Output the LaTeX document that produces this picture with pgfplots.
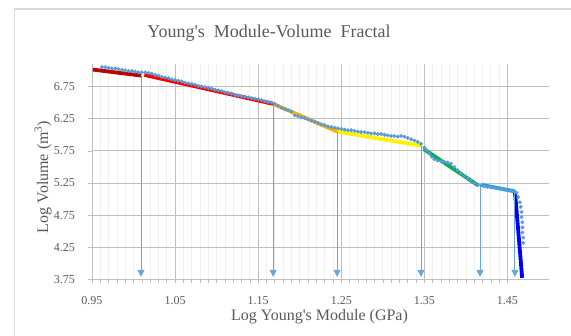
\documentclass[border=0pt]{standalone}
\usepackage{pgfplots}
\pgfplotsset{compat=1.18}
\usepackage{fontspec}
\setmainfont{Liberation Serif}
\usetikzlibrary{arrows.meta}
\definecolor{txt}{HTML}{595959}
\definecolor{grid}{HTML}{D9D9D9}
\definecolor{mgrid}{HTML}{F0F0F0}
\definecolor{axl}{HTML}{BFBFBF}
\definecolor{pts}{HTML}{5B9BD5}
\definecolor{arr}{HTML}{6AA6DC}
\definecolor{dred}{HTML}{C00000}
\definecolor{orng}{HTML}{FFB000}
\definecolor{grn}{HTML}{00B050}
\definecolor{lblue}{HTML}{0FA0F5}
\pgfplotstableread{
x y
0.962 7.05
0.966 7.05
0.970 7.04
0.974 7.03
0.978 7.03
0.982 7.02
0.986 7.01
0.990 7.00
0.994 6.99
0.998 6.99
1.002 6.98
1.006 6.97
1.010 6.97
1.014 6.97
1.018 6.96
1.022 6.95
1.026 6.93
1.030 6.92
1.034 6.90
1.038 6.89
1.042 6.88
1.046 6.86
1.050 6.85
1.054 6.84
1.058 6.83
1.062 6.81
1.066 6.80
1.070 6.79
1.074 6.78
1.078 6.76
1.082 6.75
1.086 6.74
1.090 6.73
1.094 6.72
1.098 6.70
1.102 6.69
1.106 6.68
1.110 6.66
1.114 6.65
1.118 6.64
1.122 6.62
1.126 6.61
1.130 6.60
1.134 6.59
1.138 6.58
1.142 6.57
1.146 6.56
1.150 6.55
1.154 6.54
1.158 6.52
1.162 6.51
1.166 6.50
1.170 6.48
1.174 6.45
1.178 6.42
1.182 6.40
1.186 6.38
1.190 6.36
1.194 6.30
1.198 6.29
1.202 6.27
1.206 6.26
1.210 6.24
1.214 6.22
1.218 6.20
1.222 6.18
1.226 6.16
1.230 6.15
1.234 6.13
1.238 6.12
1.242 6.11
1.246 6.10
1.250 6.09
1.254 6.08
1.258 6.07
1.262 6.07
1.266 6.06
1.270 6.05
1.274 6.04
1.278 6.04
1.282 6.03
1.286 6.02
1.290 6.02
1.294 6.01
1.298 6.01
1.302 6.00
1.306 5.99
1.310 5.98
1.314 5.98
1.318 5.97
1.322 5.98
1.326 5.97
1.330 5.95
1.334 5.93
1.338 5.91
1.342 5.89
1.346 5.86
1.350 5.80
1.353 5.76
1.356 5.71
1.359 5.66
1.362 5.62
1.366 5.60
1.370 5.59
1.374 5.58
1.378 5.57
1.382 5.55
1.386 5.50
1.390 5.45
1.394 5.40
1.398 5.36
1.402 5.32
1.406 5.29
1.410 5.25
1.414 5.22
1.418 5.21
1.422 5.20
1.426 5.19
1.430 5.19
1.434 5.18
1.438 5.17
1.442 5.16
1.446 5.15
1.450 5.14
1.454 5.13
1.458 5.12
1.461 5.10
1.463 5.03
1.465 4.95
1.466 4.88
1.467 4.80
1.467 4.72
1.468 4.64
1.468 4.56
1.468 4.48
1.469 4.40
1.469 4.32
}\scatterdata
\begin{document}
\begin{tikzpicture}
\path[use as bounding box] (-92pt,-56.5pt) rectangle (479pt,279.5pt);
\draw[grid, line width=1.5pt] (-77.5pt,-56.5pt) -- (-77.5pt,270.5pt) -- (479pt,270.5pt);
\begin{axis}[
  at={(0pt,0pt)}, anchor=south west,
  scale only axis, width=457pt, height=215.5pt,
  xmin=0.95, xmax=1.5, ymin=3.75, ymax=7.1,
  xtick={0.95,1.05,1.15,1.25,1.35,1.45},
  xticklabels={0.95,1.05,1.15,1.25,1.35,1.45},
  ytick={3.75,4.25,4.75,5.25,5.75,6.25,6.75},
  yticklabels={3.75,4.25,4.75,5.25,5.75,6.25,6.75},
  minor x tick num=9,
  grid=both,
  major grid style={grid, line width=0.8pt},
  minor grid style={mgrid, line width=0.8pt},
  axis x line*=bottom, axis y line*=left,
  axis line style={axl, line width=0.8pt},
  tick align=outside,
  major tick length=4pt, minor tick length=4pt,
  tick style={axl, line width=0.6pt},
  xticklabel style={font=\fontsize{12}{14}\selectfont, text=txt, inner sep=0pt, anchor=center, yshift=-17.5pt},
  yticklabel style={font=\fontsize{12}{14}\selectfont, text=txt, inner sep=0pt, anchor=east, xshift=-13pt},
  clip=false,
]
\addplot[only marks, mark=*, mark size=1.75pt, pts, mark options={draw=none, fill=pts}] table[x=x,y=y] {\scatterdata};
\addplot[dred, line width=3.8pt] coordinates {(0.951,7.013) (1.009,6.92)};
\addplot[red, line width=3.8pt] coordinates {(1.013,6.93) (1.168,6.48)};
\addplot[orng, line width=3.8pt] coordinates {(1.168,6.48) (1.245,6.05)};
\addplot[yellow, line width=3.8pt] coordinates {(1.245,6.05) (1.346,5.83)};
\addplot[grn, line width=3.8pt] coordinates {(1.349,5.78) (1.415,5.21)};
\addplot[lblue, line width=3.8pt] coordinates {(1.419,5.22) (1.459,5.12)};
\addplot[blue, line width=3.8pt] coordinates {(1.459,5.12) (1.4677,3.776)};
\addplot[arr, line width=0.9pt, -{Triangle[width=7pt,length=7pt]}] coordinates {(1.009,6.92) (1.009,3.79)};
\addplot[arr, line width=0.9pt, -{Triangle[width=7pt,length=7pt]}] coordinates {(1.168,6.48) (1.168,3.79)};
\addplot[arr, line width=0.9pt, -{Triangle[width=7pt,length=7pt]}] coordinates {(1.245,6.05) (1.245,3.79)};
\addplot[arr, line width=0.9pt, -{Triangle[width=7pt,length=7pt]}] coordinates {(1.346,5.83) (1.346,3.79)};
\addplot[arr, line width=0.9pt, -{Triangle[width=7pt,length=7pt]}] coordinates {(1.417,5.21) (1.417,3.79)};
\addplot[arr, line width=0.9pt, -{Triangle[width=7pt,length=7pt]}] coordinates {(1.459,5.12) (1.459,3.79)};
\end{axis}
\node[text=txt, font=\fontsize{18}{20}\selectfont] at (177pt,246.5pt) {Young\textquotesingle s\ \ Module-Volume\ \ Fractal};
\node[text=txt, font=\fontsize{16}{18}\selectfont] at (227.5pt,-37.5pt) {Log Young\textquotesingle s Module (GPa)};
\node[text=txt, font=\fontsize{16}{18}\selectfont, rotate=90] at (-49pt,102.5pt) {Log Volume (m\textsuperscript{3})};
\end{tikzpicture}
\end{document}
